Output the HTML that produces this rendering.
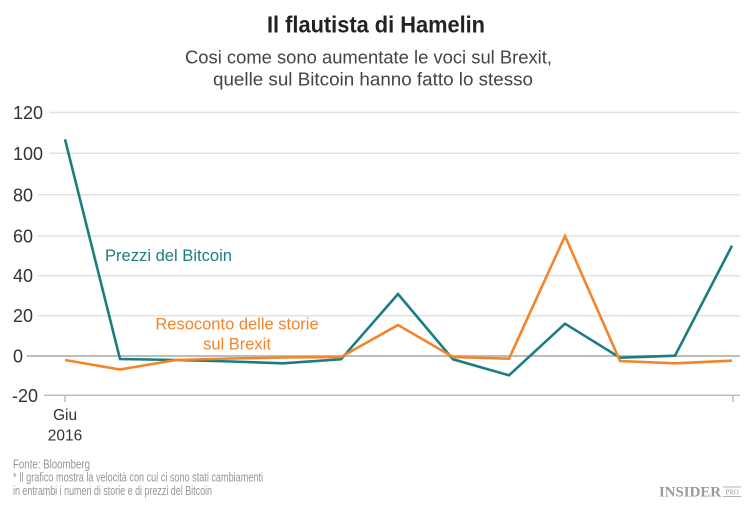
<!DOCTYPE html>
<html>
<head>
<meta charset="utf-8">
<style>
  html, body { margin:0; padding:0; background:#ffffff; }
  body { width:750px; height:510px; overflow:hidden; }
  svg { display:block; }
  text { font-family: "Liberation Sans", Arial, sans-serif; }
</style>
</head>
<body>
<svg width="750" height="510" viewBox="0 0 750 510" xmlns="http://www.w3.org/2000/svg">
  <rect width="750" height="510" fill="#ffffff"/>

  <!-- Title -->
  <text x="267" y="32.5" font-size="23" font-weight="bold" fill="#222" textLength="218" lengthAdjust="spacingAndGlyphs">Il flautista di Hamelin</text>
  <!-- Subtitle -->
  <text x="185" y="63.5" font-size="18.5" fill="#444" textLength="367" lengthAdjust="spacingAndGlyphs">Cosi come sono aumentate le voci sul Brexit,</text>
  <text x="213" y="85.5" font-size="18.5" fill="#444" textLength="320" lengthAdjust="spacingAndGlyphs">quelle sul Bitcoin hanno fatto lo stesso</text>

  <!-- Gridlines -->
  <g stroke="#e2e2e2" stroke-width="1.5">
    <line x1="49" y1="112.5" x2="740" y2="112.5"/>
    <line x1="49" y1="153.3" x2="740" y2="153.3"/>
    <line x1="38" y1="194.8" x2="740" y2="194.8"/>
    <line x1="38" y1="236" x2="740" y2="236"/>
    <line x1="38" y1="275.7" x2="740" y2="275.7"/>
    <line x1="38" y1="315.7" x2="740" y2="315.7"/>
  </g>
  <line x1="27" y1="356" x2="740" y2="356" stroke="#bdbdbd" stroke-width="2"/>
  <line x1="44" y1="395.3" x2="740" y2="395.3" stroke="#bdbdbd" stroke-width="1.5"/>
  <!-- Ticks -->
  <line x1="65" y1="395.3" x2="65" y2="402" stroke="#bdbdbd" stroke-width="1.5"/>
  <line x1="733" y1="395.3" x2="733" y2="402" stroke="#bdbdbd" stroke-width="1.5"/>

  <!-- Y labels -->
  <g font-size="18" fill="#333">
    <text x="13" y="119">120</text>
    <text x="13" y="159.8">100</text>
    <text x="13" y="201.3">80</text>
    <text x="13" y="242.5">60</text>
    <text x="13" y="282.2">40</text>
    <text x="13" y="322.2">20</text>
    <text x="13" y="362.5">0</text>
    <text x="12" y="401.8">-20</text>
  </g>

  <!-- X labels -->
  <text x="65" y="420" font-size="15.5" fill="#333" text-anchor="middle">Giu</text>
  <text x="65" y="440.5" font-size="15.5" fill="#333" text-anchor="middle">2016</text>

  <!-- Series: Bitcoin (teal) -->
  <polyline fill="none" stroke="#1b7d80" stroke-width="2.6" stroke-linejoin="miter"
    points="65,139.3 120,359 176,360 231,361.5 283,363.3 341,359.3 398,294 453,359.3 509,375.3 565,323.7 620,357.7 675,355.7 732,245.7"/>
  <!-- Series: Brexit (orange) -->
  <polyline fill="none" stroke="#f2852a" stroke-width="2.6" stroke-linejoin="miter"
    points="65,360 120,369.5 176,360 231,358.5 283,357.5 341,357 398,325 453,357 509,358.7 565,236 620,361 675,363.3 732,360.7"/>

  <!-- Series labels -->
  <text x="105" y="261" font-size="16.5" fill="#1b7d80" textLength="127" lengthAdjust="spacingAndGlyphs">Prezzi del Bitcoin</text>
  <text x="237" y="329.5" font-size="16.5" fill="#f2852a" text-anchor="middle">Resoconto delle storie</text>
  <text x="237" y="349.5" font-size="16.5" fill="#f2852a" text-anchor="middle">sul Brexit</text>

  <!-- Footer -->
  <g font-size="13" fill="#959595">
    <text x="13" y="468.3" textLength="77" lengthAdjust="spacingAndGlyphs">Fonte: Bloomberg</text>
    <text x="13" y="481.7" textLength="250" lengthAdjust="spacingAndGlyphs">* Il grafico mostra la velocità con cui ci sono stati cambiamenti</text>
    <text x="13" y="495" textLength="199" lengthAdjust="spacingAndGlyphs">in entrambi i numeri di storie e di prezzi del Bitcoin</text>
  </g>

  <!-- Logo -->
  <text x="659" y="496.7" font-size="14.5" font-weight="bold" fill="#9a9a9a" textLength="62" lengthAdjust="spacingAndGlyphs" style="font-family:'Liberation Serif', serif;">INSIDER</text>
  <line x1="723" y1="487" x2="741" y2="487" stroke="#9a9a9a" stroke-width="0.8"/>
  <line x1="723" y1="496.5" x2="741" y2="496.5" stroke="#9a9a9a" stroke-width="0.8"/>
  <text x="732" y="494.5" font-size="7" fill="#9a9a9a" text-anchor="middle" style="font-family:'Liberation Serif', serif;">PRO</text>
</svg>
</body>
</html>
